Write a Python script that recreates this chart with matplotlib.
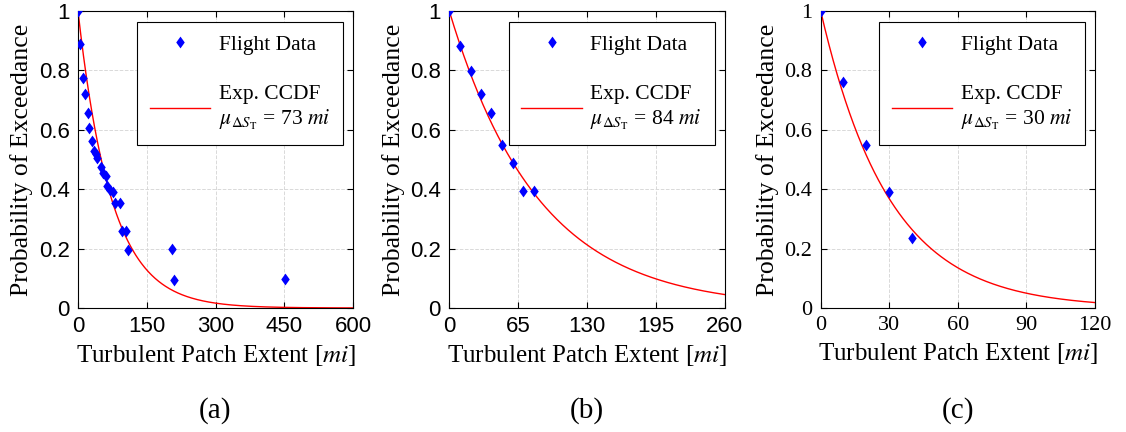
import numpy as np
import matplotlib
matplotlib.use("Agg")
import matplotlib.pyplot as plt

# ---- data ----
xa = [0, 5, 11, 14.5, 21, 25, 30.5, 34, 38.5, 42, 50, 54.5, 60, 64, 70.5, 77, 80, 91.6, 95, 105, 110, 205, 210, 451.6]
ya = [1.0, 0.89, 0.773, 0.722, 0.655, 0.605, 0.563, 0.53, 0.52, 0.504, 0.476, 0.453, 0.446, 0.411, 0.398, 0.392,
      0.353, 0.353, 0.258, 0.258, 0.196, 0.198, 0.095, 0.097]
xb = [0, 10.1, 20.1, 29.9, 39.7, 49.7, 59.8, 69.9, 80.3]
yb = [1.0, 0.882, 0.797, 0.719, 0.655, 0.549, 0.489, 0.395, 0.395]
xc = [0, 9.8, 19.7, 30, 40.1]
yc = [1.0, 0.761, 0.549, 0.389, 0.237]
mus = [73, 84, 30]
xmax = [600, 260, 120]
xticks_list = [[0, 150, 300, 450, 600], [0, 65, 130, 195, 260], [0, 30, 60, 90, 120]]
yticks = [0, 0.2, 0.4, 0.6, 0.8, 1]
ytick_labels = ["0", "0.2", "0.4", "0.6", "0.8", "1"]
captions = ["(a)", "(b)", "(c)"]

plt.rcParams['mathtext.fontset'] = 'stix'
serif = 'Liberation Serif'
sans = 'Liberation Sans'

diamond = [(0, 1), (0.72, 0), (0, -1), (-0.72, 0), (0, 1)]

fig = plt.figure(figsize=(11.26, 4.32), dpi=100)
lefts = [78, 449.3, 820.7]
widths = [275, 275.4, 274.3]
W, H = 1126, 432
top_px, bot_px = 11, 308
tick_fonts = [sans, sans, serif]

for i, (xs, ys) in enumerate([(xa, ya), (xb, yb), (xc, yc)]):
    ax = fig.add_axes([lefts[i] / W, (H - bot_px) / H, widths[i] / W, (bot_px - top_px) / H])
    ax.plot(xs, ys, linestyle='none', marker=diamond, color='blue', markersize=8.5, markeredgewidth=0,
            label='Flight Data', zorder=3)
    xx = np.linspace(0, xmax[i], 400)
    ax.plot(xx, np.exp(-xx / mus[i]), color='red', lw=1,
            label='Exp. CCDF\n$\\mu_{\\Delta S_{\\mathrm{T}}}$ = %d $mi$' % mus[i], zorder=2)
    ax.set_xlim(0, xmax[i])
    ax.set_ylim(0, 1)
    ax.set_xticks(xticks_list[i])
    ax.set_yticks(yticks)
    ax.set_yticklabels(ytick_labels)
    ax.tick_params(direction='in', top=True, right=True, length=4, labelsize=16, pad=6)
    for lab in ax.get_xticklabels() + ax.get_yticklabels():
        lab.set_fontfamily(tick_fonts[i])
    ax.grid(True, linestyle='--', color='#d9d9d9', lw=0.7)
    ax.set_axisbelow(True)
    for s in ax.spines.values():
        s.set_linewidth(0.8)
    ax.set_xlabel('Turbulent Patch Extent [$mi$]', fontsize=18, fontfamily=serif, labelpad=4)
    ax.set_ylabel('Probability of Exceedance', fontsize=18.5, fontfamily=serif, labelpad=4)
    leg = ax.legend(loc='upper right', bbox_to_anchor=(0.964, 0.963), prop={'family': serif, 'size': 15.5},
                    fancybox=False, edgecolor='black', framealpha=1, labelspacing=1.4,
                    handlelength=2.8, borderpad=0.6, handletextpad=0.4, borderaxespad=0)
    leg.get_frame().set_linewidth(0.8)
    fig.text((lefts[i] + widths[i] / 2) / W, 1 - 411 / H, captions[i], ha='center', va='center',
             fontsize=21, fontfamily=serif)

fig.savefig('out.png', dpi=100)
